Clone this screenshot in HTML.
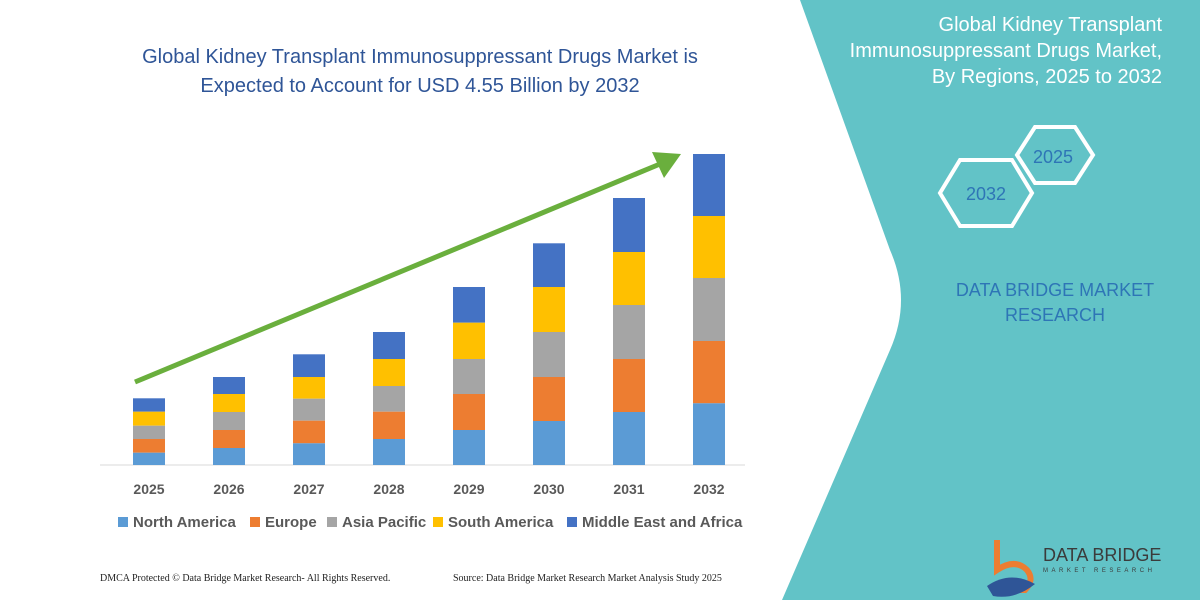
<!DOCTYPE html>
<html><head><meta charset="utf-8"><style>
body{margin:0;width:1200px;height:600px;overflow:hidden;background:#fff;font-family:"Liberation Sans",sans-serif;position:relative}
.t{position:absolute;white-space:nowrap}
</style></head><body>
<svg width="1200" height="600" style="position:absolute;left:0;top:0">
<path d="M800,0 L1200,0 L1200,600 L782,600 L890,350 Q912,300 890,250 Z" fill="#62c3c7"/>
<g fill="none" stroke="#fff" stroke-width="4">
<polygon points="940,193 960,160 1012,160 1032,193 1012,226 960,226"/>
<polygon points="1017,155 1035,127 1075,127 1093,155 1075,183 1035,183"/>
</g>
<text x="986" y="200" font-family="Liberation Sans" font-size="18" fill="#2e75b6" text-anchor="middle">2032</text>
<text x="1053" y="163" font-family="Liberation Sans" font-size="18" fill="#2e75b6" text-anchor="middle">2025</text>
<line x1="100" y1="465" x2="745" y2="465" stroke="#d9d9d9" stroke-width="1"/>
<g id="bars"></g>
<line x1="135" y1="382" x2="660" y2="164" stroke="#6aaf3d" stroke-width="5"/>
<polygon points="681,154 652,152 664,178" fill="#6aaf3d"/>
<g font-family="Liberation Sans" font-size="14" font-weight="bold" fill="#595959" text-anchor="middle">
<text x="149" y="494">2025</text><text x="229" y="494">2026</text><text x="309" y="494">2027</text><text x="389" y="494">2028</text><text x="469" y="494">2029</text><text x="549" y="494">2030</text><text x="629" y="494">2031</text><text x="709" y="494">2032</text>
</g>
<g font-family="Liberation Sans" font-size="15" font-weight="bold" fill="#595959">
<rect x="118" y="517" width="10" height="10" fill="#5b9bd5"/><text x="133" y="527">North America</text>
<rect x="250" y="517" width="10" height="10" fill="#ed7d31"/><text x="265" y="527">Europe</text>
<rect x="327" y="517" width="10" height="10" fill="#a5a5a5"/><text x="342" y="527">Asia Pacific</text>
<rect x="433" y="517" width="10" height="10" fill="#ffc000"/><text x="448" y="527">South America</text>
<rect x="567" y="517" width="10" height="10" fill="#4472c4"/><text x="582" y="527">Middle East and Africa</text>
</g>
<g transform="translate(985,540)">
<path d="M12,0 L12,30 Q30,18 42,30 Q50,40 40,50 L20,50" fill="none" stroke="#ed7d31" stroke-width="6"/>
<path d="M2,46 Q25,30 50,44 Q30,60 8,56 Z" fill="#2f5597"/>
</g>
</svg>
<script>
const d=[[133,398.3,411.7,425.7,439,452.7],[213,377,394,412,430,448],[293,354.3,377,398.7,420.7,443.3],[373,332,359,386,411.7,439],[453,287,322.7,359,394,430],[533,243.3,287,332,377,421],[613,198,252,305,359,412],[693,154,216,278,341,403.3]];
const c=["#4472c4","#ffc000","#a5a5a5","#ed7d31","#5b9bd5"];let s="";
d.forEach(b=>{for(let i=0;i<5;i++){const y1=b[i+1],y2=i<4?b[i+2]:465;s+=`<rect x="${b[0]}" y="${y1}" width="32" height="${y2-y1}" fill="${c[i]}"/>`}});
document.getElementById("bars").innerHTML=s;
</script>
<div class="t" style="left:100px;top:43px;width:640px;text-align:center;font-size:20px;line-height:29px;color:#2f5597">Global Kidney Transplant Immunosuppressant Drugs Market is<br>Expected to Account for USD 4.55 Billion by 2032</div>
<div class="t" style="right:38px;top:12px;text-align:right;font-size:20px;line-height:26px;color:#fff">Global Kidney Transplant<br>Immunosuppressant Drugs Market,<br>By Regions, 2025 to 2032</div>
<div class="t" style="left:925px;top:278px;width:260px;text-align:center;font-size:18px;line-height:25px;color:#2e75b6;white-space:normal">DATA BRIDGE MARKET RESEARCH</div>
<div class="t" style="left:1043px;top:545px;font-size:18px;color:#3b3b3b">DATA BRIDGE</div>
<div class="t" style="left:1043px;top:568px;font-size:6px;letter-spacing:3.5px;color:#3b3b3b">MARKET RESEARCH</div>
<div class="t" style="left:100px;top:573px;font-size:10px;font-family:'Liberation Serif',serif;color:#222">DMCA Protected © Data Bridge Market Research- All Rights Reserved.</div>
<div class="t" style="left:453px;top:573px;font-size:10px;font-family:'Liberation Serif',serif;color:#222">Source: Data Bridge Market Research Market Analysis Study 2025</div>
</body></html>
